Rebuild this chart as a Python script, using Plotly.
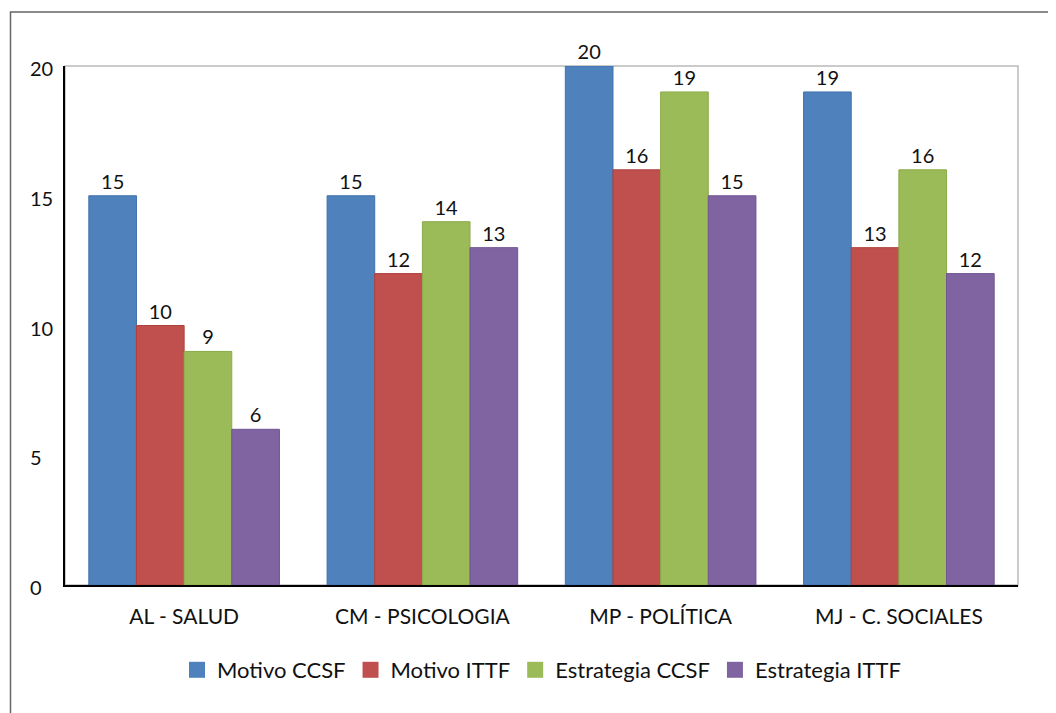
import plotly.graph_objects as go

categories = ["AL - SALUD", "CM - PSICOLOGIA", "MP - POLÍTICA", "MJ - C. SOCIALES"]
series_names = ["Motivo CCSF", "Motivo ITTF", "Estrategia CCSF", "Estrategia ITTF"]
motivo_ccsf = [15, 15, 20, 19]
motivo_ittf = [10, 12, 16, 13]
estrategia_ccsf = [9, 14, 19, 16]
estrategia_ittf = [6, 13, 15, 12]
y_ticks = [0, 5, 10, 15, 20]

colors = ["#4F81BD", "#C0504D", "#9BBB59", "#8064A2"]
outlines = ["#3F71AD", "#B0403D", "#8BAB49", "#705492"]
values = [motivo_ccsf, motivo_ittf, estrategia_ccsf, estrategia_ittf]

FONT = "Lato"
FS = 20
TXT = "#111111"

fig = go.Figure()
for name, vals, c, oc in zip(series_names, values, colors, outlines):
    fig.add_trace(go.Bar(
        x=categories, y=vals, name=name, showlegend=False,
        marker=dict(color=c, line=dict(color=oc, width=1)),
        text=[str(v) for v in vals], textposition="outside",
        textfont=dict(family=FONT, size=FS, color=TXT),
        cliponaxis=False,
    ))
# legend entries with square symbols
for name, c in zip(series_names, colors):
    fig.add_trace(go.Scatter(
        x=[None], y=[None], mode="markers", name=name,
        marker=dict(symbol="square", size=16, color=c, line=dict(color=c, width=0)),
    ))

# page offset of 8px (body margin) compensated
W, H = 1048, 705
L, R, T, B = 57, 38, 58, 128
pw, ph = W - L - R, H - T - B

annotations = [
    dict(x=(20 - L) / pw, xref="paper", y=v, yref="y", text=str(v), showarrow=False,
         xanchor="left", yanchor="middle", yshift=-2,
         font=dict(family=FONT, size=FS, color=TXT))
    for v in y_ticks
]

fig.update_layout(
    width=W, height=H,
    margin=dict(l=L, r=R, t=T, b=B, pad=0),
    paper_bgcolor="white", plot_bgcolor="white",
    barmode="group", bargap=0.2, bargroupgap=0,
    font=dict(family=FONT, size=FS, color=TXT),
    showlegend=True,
    legend=dict(orientation="h", x=0.5, xanchor="center", y=-(662 - (H - B)) / ph,
                yanchor="middle", font=dict(family=FONT, size=22, color=TXT),
                itemwidth=30, traceorder="normal", itemsizing="trace"),
    xaxis=dict(showline=True, linecolor="#000000", linewidth=2, showgrid=False,
               ticks="", tickfont=dict(family=FONT, size=21, color=TXT),
               ticklabelstandoff=12),
    yaxis=dict(range=[0, 20], tickvals=y_ticks, showticklabels=False, showline=True,
               linecolor="#000000", linewidth=2, showgrid=False, ticks="",
               zeroline=False),
    annotations=annotations,
    shapes=[
        dict(type="rect", xref="paper", yref="paper", x0=0, x1=1, y0=0, y1=1,
             line=dict(color="#BBBBBB", width=1.5), layer="below"),
        dict(type="rect", xref="paper", yref="paper",
             x0=(2.5 - L) / pw, x1=(W + 10 - L) / pw,
             y0=-(H + 10 - (H - B)) / ph, y1=1 + (T - 4) / ph,
             line=dict(color="#666666", width=1.5), layer="below"),
    ],
)

fig.write_html("out.html")
